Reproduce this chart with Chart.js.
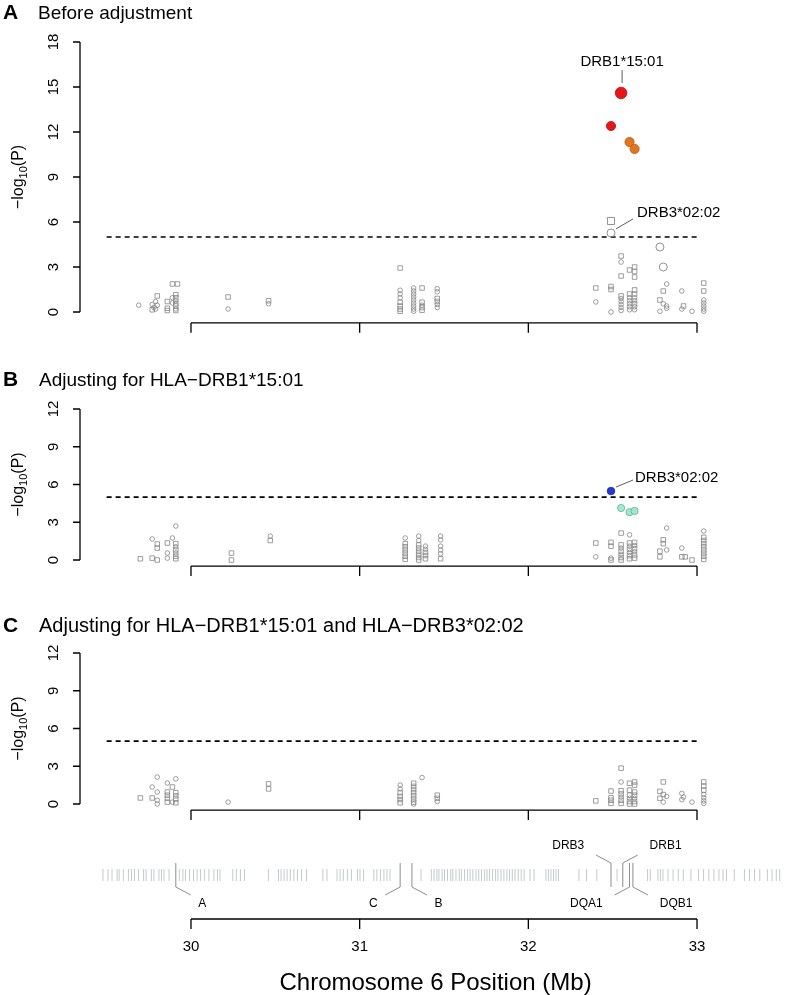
<!DOCTYPE html>
<html><head><meta charset="utf-8">
<script src="https://cdn.jsdelivr.net/npm/chart.js@4.4.0/dist/chart.umd.min.js"></script>
<style>
html,body{margin:0;padding:0;background:#fff;}
body{width:800px;height:995px;position:relative;overflow:hidden;}
canvas{position:absolute;left:0;}
</style>
</head><body>
<canvas id="cA" width="800" height="340" style="top:0px"></canvas>
<canvas id="cB" width="800" height="245" style="top:340px"></canvas>
<canvas id="cC" width="800" height="245" style="top:585px"></canvas>
<canvas id="cD" width="800" height="165" style="top:830px"></canvas>
<script>
// ---------------- DATA ----------------
const xTicks = [30, 31, 32, 33];
const yTicksA = [0, 3, 6, 9, 12, 15, 18];
const yTicksBC = [0, 3, 6, 9, 12];
const threshold = 5;
const thresholdSpan = [29.5, 33.0];

// Panel A : before adjustment  [Mb, -log10(P)]
const aCircles = [[29.69,0.45],[29.77,0.50],[29.78,0.30],[29.79,0.70],[29.79,0.20],[29.80,0.45],[29.89,0.95],[29.89,0.60],[29.91,0.75],[29.91,0.20],[30.22,0.20],[30.46,0.55],
[31.24,1.45],[31.24,1.20],[31.24,0.95],[31.32,1.60],[31.32,1.40],[31.32,1.20],[31.32,1.00],[31.32,0.80],[31.32,0.60],[31.32,0.40],[31.32,0.20],[31.32,0.05],[31.37,0.45],[31.46,1.55],[31.46,1.35],[31.46,0.50],[31.46,0.30],
[32.40,0.67],[32.49,0.00],[32.55,3.33],[32.55,0.90],[32.55,0.70],[32.55,0.50],[32.55,0.30],[32.55,0.10],[32.60,0.95],[32.60,0.75],[32.60,0.55],[32.60,0.35],[32.60,0.15],[32.63,0.95],[32.63,0.75],[32.63,0.35],[32.63,0.15],[32.82,1.87],[32.80,0.55],[32.82,0.40],[32.82,0.25],[32.78,0.05],[32.91,1.40],[32.91,0.20],[32.97,0.05],[33.04,0.80],[33.04,0.60],[33.04,0.40],[33.04,0.20],[33.04,0.05]];
const aSquares = [[29.80,1.07],[29.77,0.15],[29.86,0.70],[29.86,0.25],[29.86,0.10],[29.91,1.15],[29.91,0.95],[29.91,0.55],[29.91,0.40],[29.91,0.10],[29.89,1.87],[29.92,1.87],[30.22,1.00],[30.46,0.75],
[31.24,2.93],[31.24,0.65],[31.24,0.40],[31.24,0.20],[31.24,0.05],[31.37,1.60],[31.37,0.65],[31.37,0.30],[31.37,0.12],[31.46,0.90],[31.46,0.70],
[32.40,1.60],[32.49,1.70],[32.49,1.50],[32.55,3.73],[32.55,2.40],[32.55,1.07],[32.60,2.80],[32.60,1.20],[32.63,3.00],[32.63,2.70],[32.63,2.33],[32.63,1.47],[32.63,1.20],[32.63,0.55],[32.80,1.40],[32.78,0.80],[32.92,0.40],[33.04,1.93],[33.04,1.40]];
const aBigCircles = [[32.49,5.27],[32.78,4.33],[32.80,3.00]];
const aBigSquares = [[32.49,6.07]];
const aRedTop = [[32.55,14.6]];
const aRed = [[32.49,12.4]];
const aOrange = [[32.60,11.33],[32.63,10.87]];

// Panel B : adjusting for HLA-DRB1*15:01
const bCircles = [[29.77,1.67],[29.86,0.55],[29.86,0.15],[29.89,1.75],[29.91,2.70],[29.91,1.05],[29.91,0.55],[30.47,1.90],
[31.27,1.75],[31.35,1.90],[31.35,1.55],[31.39,1.10],[31.39,0.85],[31.48,1.90],[31.48,1.60],[31.48,1.10],[31.48,0.80],[31.48,0.50],
[32.40,0.25],[32.49,0.15],[32.60,2.00],[32.55,0.95],[32.55,0.45],[32.60,1.10],[32.60,0.60],[32.63,1.15],[32.63,0.65],[32.82,2.54],[32.82,0.80],[32.91,0.95],[33.04,2.30]];
const bSquares = [[29.70,0.10],[29.77,0.15],[29.80,1.27],[29.80,0.95],[29.80,0.00],[29.86,1.35],[29.91,1.30],[29.91,0.80],[29.91,0.30],[29.91,0.10],[30.24,0.55],[30.24,0.00],[30.47,1.55],
[31.27,1.30],[31.27,1.05],[31.27,0.80],[31.27,0.55],[31.27,0.30],[31.27,0.05],[31.35,1.20],[31.35,0.95],[31.35,0.70],[31.35,0.45],[31.35,0.20],[31.35,0.00],[31.39,0.60],[31.39,0.35],[31.39,0.10],[31.48,0.10],
[32.40,1.35],[32.49,1.40],[32.49,1.10],[32.49,0.00],[32.55,2.14],[32.55,1.20],[32.55,0.70],[32.55,0.20],[32.55,0.00],[32.60,1.35],[32.60,0.85],[32.60,0.35],[32.60,0.10],[32.63,1.40],[32.63,0.90],[32.63,0.40],[32.63,0.15],[32.80,1.60],[32.80,1.30],[32.78,0.70],[32.78,0.25],[32.91,0.25],[32.93,0.25],[32.97,0.00],[33.04,1.80],[33.04,1.55],[33.04,1.30],[33.04,1.05],[33.04,0.80],[33.04,0.55],[33.04,0.30],[33.04,0.05]];
const bBlue = [[32.49,5.48]];
const bTeal = [[32.55,4.13],[32.60,3.80],[32.63,3.90]];

// Panel C : adjusting for HLA-DRB1*15:01 and HLA-DRB3*02:02
const cCircles = [[29.77,1.35],[29.80,2.14],[29.80,0.95],[29.80,0.30],[29.80,0.00],[29.86,1.67],[29.89,0.15],[29.91,2.00],[30.22,0.15],
[31.24,1.50],[31.24,1.20],[31.32,0.00],[31.37,2.10],[31.46,0.20],
[32.55,1.75],[32.55,0.55],[32.60,0.45],[32.63,0.45],[32.82,0.60],[32.80,0.15],[32.91,0.85],[32.92,0.55],[32.91,0.35],[32.97,0.15],[33.04,0.75],[33.04,0.50],[33.04,0.25],[33.04,0.05]];
const cSquares = [[29.70,0.48],[29.77,0.48],[29.86,0.95],[29.86,0.70],[29.86,0.45],[29.86,0.15],[29.89,1.35],[29.91,0.90],[29.91,0.65],[29.91,0.40],[29.91,0.10],[30.46,1.60],[30.46,1.20],
[31.24,0.90],[31.24,0.60],[31.24,0.35],[31.24,0.10],[31.32,1.65],[31.32,1.40],[31.32,1.15],[31.32,0.90],[31.32,0.65],[31.32,0.40],[31.32,0.15],[31.46,0.70],[31.46,0.45],
[32.40,0.25],[32.49,1.03],[32.49,0.50],[32.49,0.30],[32.49,0.05],[32.55,2.85],[32.55,1.05],[32.55,0.80],[32.55,0.30],[32.55,0.05],[32.60,1.65],[32.60,1.10],[32.60,0.70],[32.60,0.20],[32.60,0.00],[32.63,1.75],[32.63,1.50],[32.63,0.95],[32.63,0.70],[32.63,0.20],[32.63,0.00],[32.80,1.75],[32.78,1.00],[32.80,0.75],[32.78,0.45],[33.04,1.75],[33.04,1.43],[33.04,1.10]];

// Gene track (Mb)
const geneTicks = [29.342,29.357,29.372,29.387,29.402,29.433,29.448,29.463,29.478,29.508,29.532,29.562,29.574,29.599,29.629,29.647,29.665,29.689,29.719,29.734,29.765,29.780,29.810,29.825,29.840,29.870,
29.931,29.952,29.967,29.991,30.015,30.036,30.057,30.081,30.106,30.136,30.157,30.172,30.248,30.269,30.293,30.317,
30.459,30.519,30.534,30.552,30.570,30.589,30.610,30.631,30.655,30.685,30.782,30.806,30.866,30.884,30.903,30.927,30.951,30.987,31.002,31.023,31.084,31.102,31.123,31.144,31.162,31.180,
31.364,31.425,31.441,31.458,31.470,31.489,31.503,31.521,31.540,31.552,31.571,31.590,31.603,31.622,31.640,31.655,31.671,31.690,31.706,31.722,31.741,31.755,31.770,31.788,31.806,31.820,31.838,31.855,31.873,31.889,31.905,31.921,31.940,31.958,31.975,32.010,32.034,
32.104,32.119,32.134,32.149,32.164,32.179,32.300,32.345,32.406,32.526,
32.707,32.723,32.768,32.783,32.798,32.828,32.858,32.889,32.919,32.964,33.009,33.039,33.070,33.100,33.130,33.154,33.175,33.221,33.281,33.311,33.341,33.372,33.417,33.445,33.470,33.490];
const geneNames = ['A','C','B','DRB3','DRB1','DQA1','DQB1'];
const genePos = [29.91, 31.24, 31.31, 32.49, 32.56, 32.60, 32.62];

// ---------------- RENDERING ----------------
const FONT = '"Liberation Sans", Arial, Helvetica, sans-serif';
const GRAY = '#858585';
const XMIN = 29.5, XMAX = 33.5;

function pts(arr){ return arr.map(p => ({x:p[0], y:p[1]})); }
function ds(arr, style, r, fill, stroke, bw){
  return {type:'scatter', data:pts(arr), pointStyle:style, pointRadius:r, pointHoverRadius:r,
    backgroundColor:fill, borderColor:stroke, borderWidth:bw, clip:false};
}
function dashed(){
  return {type:'line', data:[{x:thresholdSpan[0],y:threshold},{x:thresholdSpan[1],y:threshold}],
    borderColor:'#000', borderWidth:1.7, borderDash:[5,4], pointRadius:0, fill:false, clip:false};
}

function drawYTitle(ctx, cx, cy){
  ctx.save();
  ctx.translate(cx, cy);
  ctx.rotate(-Math.PI/2);
  ctx.fillStyle = '#000';
  ctx.textBaseline = 'alphabetic';
  const f1 = '16px ' + FONT, f2 = '11px ' + FONT;
  ctx.font = f1; const w1 = ctx.measureText('\u2212log').width; const w3 = ctx.measureText('(P)').width;
  ctx.font = f2; const w2 = ctx.measureText('10').width;
  let x = -(w1 + w2 + w3)/2;
  ctx.font = f1; ctx.textAlign = 'left'; ctx.fillText('\u2212log', x, 5); x += w1;
  ctx.font = f2; ctx.fillText('10', x, 9); x += w2;
  ctx.font = f1; ctx.fillText('(P)', x, 5);
  ctx.restore();
}

function panelPlugin(cfg){
  return {
    id:'rPanel',
    afterDraw(chart){
      const ctx = chart.ctx, xs = chart.scales.x, ys = chart.scales.y;
      ctx.save();
      ctx.translate(0, -cfg.top);
      const T = v => ys.getPixelForValue(v) + cfg.top;
      const X = v => xs.getPixelForValue(v);
      ctx.strokeStyle = '#000'; ctx.fillStyle = '#000'; ctx.lineWidth = 1.3;
      // y axis
      const ax = 80, t0 = cfg.yTicks[0], t1 = cfg.yTicks[cfg.yTicks.length-1];
      ctx.beginPath();
      ctx.moveTo(ax, T(t0)); ctx.lineTo(ax, T(t1));
      cfg.yTicks.forEach(t => { ctx.moveTo(ax, T(t)); ctx.lineTo(ax-7, T(t)); });
      ctx.stroke();
      ctx.font = '15px ' + FONT; ctx.textAlign = 'center'; ctx.textBaseline = 'middle';
      cfg.yTicks.forEach(t => {
        ctx.save(); ctx.translate(54, T(t)); ctx.rotate(-Math.PI/2); ctx.fillText(String(t), 0, 0); ctx.restore();
      });
      drawYTitle(ctx, 18, (T(t0)+T(t1))/2);
      // x axis (no labels)
      const xy = T(-0.04*t1);
      ctx.beginPath();
      ctx.moveTo(X(xTicks[0]), xy); ctx.lineTo(X(xTicks[xTicks.length-1]), xy);
      xTicks.forEach(t => { ctx.moveTo(X(t), xy); ctx.lineTo(X(t), xy+10); });
      ctx.stroke();
      // title
      ctx.textAlign = 'left'; ctx.textBaseline = 'alphabetic';
      ctx.font = 'bold 21px ' + FONT; ctx.fillText(cfg.letter, 3, cfg.titleY);
      ctx.font = cfg.titleSize + 'px ' + FONT; ctx.fillText(cfg.title, cfg.titleX, cfg.titleY);
      // annotations
      ctx.lineWidth = 0.8; ctx.strokeStyle = '#333';
      ctx.font = '15px ' + FONT;
      (cfg.notes || []).forEach(n => {
        const px = X(n.at[0]), py = T(n.at[1]);
        ctx.beginPath(); ctx.moveTo(px+n.l0[0], py+n.l0[1]); ctx.lineTo(px+n.l1[0], py+n.l1[1]); ctx.stroke();
        ctx.textAlign = n.align; ctx.textBaseline = 'middle';
        ctx.fillText(n.text, px+n.t[0], py+n.t[1]);
      });
      ctx.restore();
    }
  };
}

function makePanel(id, top, height, ymax, padTop, padBottom, datasets, cfg){
  cfg.top = top;
  return new Chart(document.getElementById(id), {
    type:'scatter',
    data:{datasets:datasets},
    options:{
      responsive:false, animation:false, events:[],
      layout:{padding:{left:106.65, right:800-781.35, top:padTop, bottom:padBottom}},
      plugins:{legend:{display:false}, tooltip:{enabled:false}, title:{display:false}},
      scales:{
        x:{type:'linear', min:XMIN, max:XMAX, display:false},
        y:{type:'linear', min:0, max:ymax, display:false}
      }
    },
    plugins:[panelPlugin(cfg)]
  });
}

const grayC = arr => ds(arr, 'circle', 2.3, 'rgba(255,255,255,0)', GRAY, 0.8);
const grayS = arr => ds(arr, 'rect', 3.2, 'rgba(255,255,255,0)', GRAY, 0.8);

// Panel A: y 0 -> 312, 18 -> 42
makePanel('cA', 0, 340, 18, 42, 340-312, [
  grayC(aCircles), grayS(aSquares),
  ds(aBigCircles, 'circle', 4, 'rgba(255,255,255,0)', GRAY, 0.9),
  ds(aBigSquares, 'rect', 5, 'rgba(255,255,255,0)', GRAY, 0.9),
  dashed(),
  ds(aOrange, 'circle', 4.6, '#e2761e', '#b85a10', 0.8),
  ds(aRed, 'circle', 4.6, '#e8151b', '#a81010', 0.8),
  ds(aRedTop, 'circle', 5.8, '#e8151b', '#a81010', 0.8)
], {letter:'A', title:'Before adjustment', titleX:38, titleY:19, titleSize:19, yTicks:yTicksA,
    notes:[
      {text:'DRB1*15:01', at:aRedTop[0], l0:[1,-10], l1:[1,-23], t:[1,-31], align:'center'},
      {text:'DRB3*02:02', at:aBigCircles[0], l0:[5,-4], l1:[22,-14], t:[26,-20], align:'left'}
    ]});

// Panel B: y 0 -> 560, 12 -> 409 (abs), canvas top 340
makePanel('cB', 340, 245, 12, 409-340, 585-560, [
  grayC(bCircles), grayS(bSquares), dashed(),
  ds(bTeal, 'circle', 3.6, '#a3e8d2', '#5fae96', 0.8),
  ds(bBlue, 'circle', 3.8, '#2438d8', '#1a2aa0', 0.8)
], {letter:'B', title:'Adjusting for HLA\u2212DRB1*15:01', titleX:39, titleY:386, titleSize:19, yTicks:yTicksBC,
    notes:[
      {text:'DRB3*02:02', at:bBlue[0], l0:[5,-4], l1:[22,-11], t:[24,-13], align:'left'}
    ]});

// Panel C: y 0 -> 804, 12 -> 653 (abs), canvas top 585
makePanel('cC', 585, 245, 12, 653-585, 830-804, [
  grayC(cCircles), grayS(cSquares), dashed()
], {letter:'C', title:'Adjusting for HLA\u2212DRB1*15:01 and HLA\u2212DRB3*02:02', titleX:39, titleY:632, titleSize:20, yTicks:yTicksBC, notes:[]});

// Gene track + position axis. canvas top 830; track centre at abs 875
const geneSides = [[1,1],[-1,1],[1,1],[-1,-1],[1,-1],[-1,1],[1,1]];
const trackPlugin = {
  id:'rTrack',
  afterDraw(chart){
    const ctx = chart.ctx, xs = chart.scales.x, ys = chart.scales.y;
    const X = v => xs.getPixelForValue(v);
    const yc = ys.getPixelForValue(0);
    ctx.save();
    // labelled genes
    ctx.strokeStyle = '#8c8c8c'; ctx.lineWidth = 1;
    ctx.fillStyle = '#000'; ctx.font = '12px ' + FONT; ctx.textBaseline = 'middle'; ctx.textAlign = 'center';
    genePos.forEach((g, i) => {
      const px = X(g), sx = geneSides[i][0], sy = geneSides[i][1];
      const ey = yc + sy*12;
      ctx.beginPath();
      ctx.moveTo(px, yc-12); ctx.lineTo(px, yc+12);
      ctx.moveTo(px, ey); ctx.lineTo(px + sx*15, ey + sy*8);
      ctx.stroke();
      const w = ctx.measureText(geneNames[i]).width;
      ctx.fillText(geneNames[i], px + sx*15 + sx*(w/2 + 6 + 0.18*w), ey + sy*17);
    });
    // bottom axis
    ctx.strokeStyle = '#000'; ctx.lineWidth = 1.3;
    const ay = 89;
    ctx.beginPath();
    ctx.moveTo(X(xTicks[0]), ay); ctx.lineTo(X(xTicks[xTicks.length-1]), ay);
    xTicks.forEach(t => { ctx.moveTo(X(t), ay); ctx.lineTo(X(t), ay+10); });
    ctx.stroke();
    ctx.font = '15px ' + FONT; ctx.textAlign = 'center'; ctx.textBaseline = 'middle';
    xTicks.forEach(t => ctx.fillText(String(t), X(t), 117));
    ctx.font = '24px ' + FONT;
    ctx.fillText('Chromosome 6 Position (Mb)', X(31.45), 153);
    ctx.restore();
  }
};
new Chart(document.getElementById('cD'), {
  type:'scatter',
  data:{datasets:[{
    data: geneTicks.map(g => ({x:g, y:0})), pointStyle:'line', rotation:90,
    pointRadius:6, pointHoverRadius:6, borderColor:'#c4caca', borderWidth:1, clip:false
  }]},
  options:{
    responsive:false, animation:false, events:[],
    layout:{padding:{left:106.65, right:800-781.35, top:36, bottom:165-54}},
    plugins:{legend:{display:false}, tooltip:{enabled:false}},
    scales:{
      x:{type:'linear', min:XMIN, max:XMAX, display:false},
      y:{type:'linear', min:-1, max:1, display:false}
    }
  },
  plugins:[trackPlugin]
});
</script>
</body></html>
